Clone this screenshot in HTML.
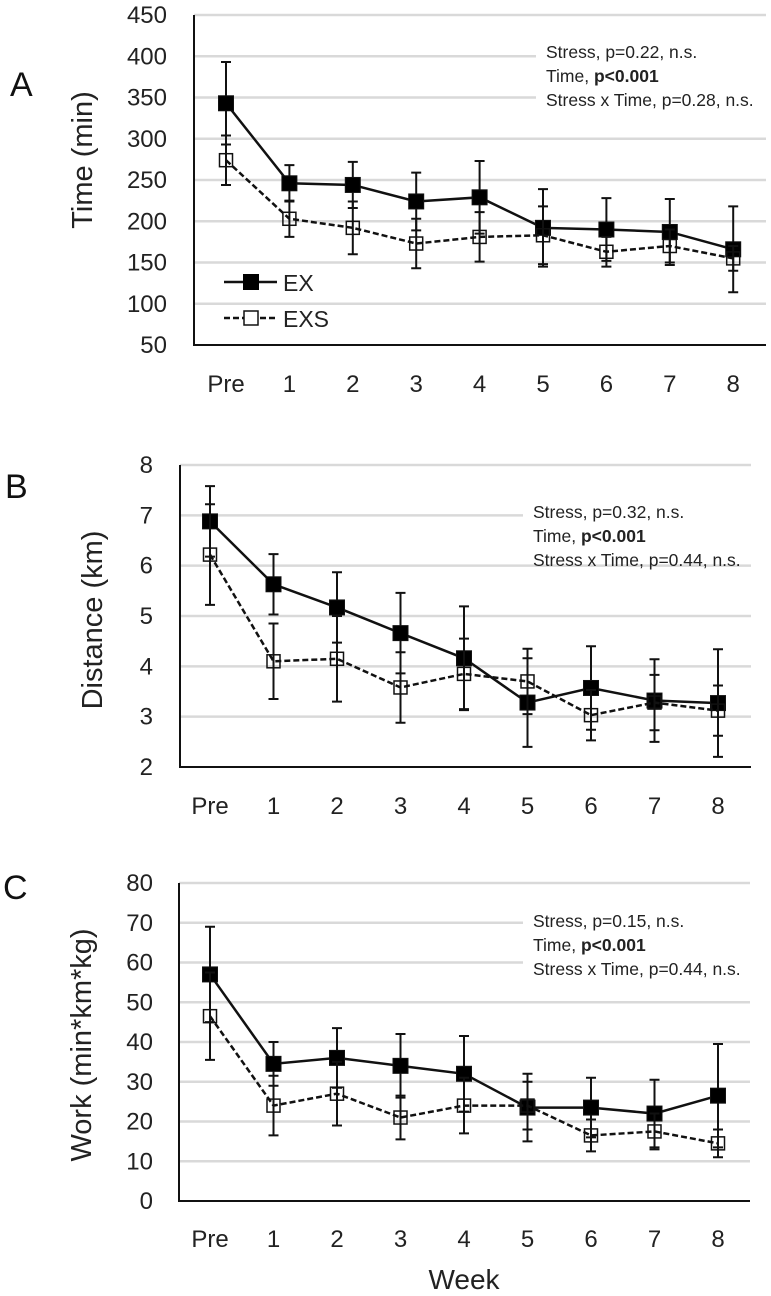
<!DOCTYPE html>
<html><head><meta charset="utf-8"><style>
html,body{margin:0;padding:0;background:#fff;}
svg{display:block;font-family:"Liberation Sans",sans-serif;}
</style></head><body>
<svg id="fig" width="771" height="1296" viewBox="0 0 771 1296" xmlns="http://www.w3.org/2000/svg"></svg>
<script>
const categories = ["Pre","1","2","3","4","5","6","7","8"];
const timeEX = [343,246,244,224,229,192,190,187,166];
const timeEXerr = [50,22,28,35,44,47,38,40,52];
const timeEXS = [274,203,192,173,181,183,163,170,155];
const timeEXSerr = [30,22,32,30,30,35,18,20,15];
const distEX = [6.88,5.63,5.17,4.66,4.16,3.28,3.57,3.32,3.27];
const distEXerr = [0.7,0.6,0.7,0.8,1.03,0.88,0.83,0.82,1.07];
const distEXS = [6.22,4.1,4.15,3.58,3.85,3.7,3.03,3.28,3.12];
const distEXSerr = [1.0,0.75,0.85,0.7,0.7,0.65,0.5,0.55,0.5];
const workEX = [57,34.5,36,34,32,23.5,23.5,22,26.5];
const workEXerr = [12,5.5,7.5,8,9.5,8.5,7.5,8.5,13];
const workEXS = [46.5,24,27,21,24,24,16.5,17.5,14.5];
const workEXSerr = [11,7.5,8,5.5,7,6,4,4.5,3.5];
const timeTicks = [50,100,150,200,250,300,350,400,450];
const distTicks = [2,3,4,5,6,7,8];
const workTicks = [0,10,20,30,40,50,60,70,80];

const NS="http://www.w3.org/2000/svg";
const svg=document.getElementById('fig');
function mk(tag,attrs,parent){const e=document.createElementNS(NS,tag);for(const k in attrs)e.setAttribute(k,attrs[k]);(parent||svg).appendChild(e);return e;}

function panel(o){
  const g=mk('g',{});
  
  
  const y=v=>o.y0-(v-o.vmin)/(o.vmax-o.vmin)*(o.y0-o.y1);
  const x=i=>o.xPre+i*o.step;
  o.ticks.forEach(t=>{
    if(t!==o.vmin){
      const gl=mk('line',{x1:o.ax,x2:o.xr,y1:y(t),y2:y(t),stroke:'#d9d9d9','stroke-width':2.5},g);
      
      
    }
    const tl=mk('text',{x:o.tickX,y:y(t)+8,'text-anchor':'end','font-size':24,fill:'#222'},g);
    tl.textContent=t;
    
    
  });
  const bg=mk('rect',{x:o.annX-10,y:o.annY-18,width:o.xr-o.annX+10,height:70,fill:'#fff'},g);
  
  
  const lines=o.ann;
  [0,1,2].forEach(k=>{
    const t=mk('text',{x:o.annX,y:o.annY+k*24+6,'font-size':17.5,fill:'#222'},g);
    
    
    if(k===1){t.innerHTML='Time, <tspan font-weight="bold">p&lt;0.001</tspan>';}
    else t.textContent=lines[k];
  });
  const axl=mk('path',{d:`M${o.ax},${o.y1} V${o.y0} H${o.xr}`,fill:'none',stroke:'#111','stroke-width':2},g);
  
  
  categories.forEach((c,i)=>{
    const t=mk('text',{x:x(i),y:o.catY,'text-anchor':'middle','font-size':24,fill:'#222'},g);
    t.textContent=c;
    
    
  });
  const at=mk('text',{transform:`translate(${o.titleX},${o.titleY}) rotate(-90)`,'text-anchor':'middle','font-size':29,fill:'#222'},g);
  at.textContent=o.title;
  
  
  const pl=mk('text',{x:o.letterX,y:o.letterY,'font-size':34,fill:'#111'},g);
  pl.textContent=o.letter;
  
  
  function series(vals,errs,filled,dash,nm){
    vals.forEach((v,i)=>{
      const e=mk('path',{d:`M${x(i)},${y(v+errs[i])} V${y(v-errs[i])} M${x(i)-5},${y(v+errs[i])} h10 M${x(i)-5},${y(v-errs[i])} h10`,stroke:'#111','stroke-width':2,fill:'none'},g);
      
      
    });
    const ln=mk('polyline',{points:vals.map((v,i)=>x(i)+','+y(v)).join(' '),fill:'none',stroke:'#111','stroke-width':2.5,'stroke-dasharray':dash},g);
    
    
    vals.forEach((v,i)=>{
      const s=filled?15:13;
      const r=mk('rect',{x:x(i)-s/2,y:y(v)-s/2,width:s,height:s,fill:filled?'#000':'none',stroke:'#111','stroke-width':filled?1:1.5},g);
      
      
    });
  }
  series(o.ex,o.exErr,true,'none','ex');
  series(o.exs,o.exsErr,false,'6,3','exs');
  return g;
}

panel({name:'panel-a-time',vmin:50,vmax:450,y0:345,y1:15,ax:194,xr:766,xPre:226,step:63.4,ticks:timeTicks,tickX:167,catY:392,
  title:'Time (min)',titleX:92,titleY:160,letter:'A',letterX:10,letterY:96,annX:546,annY:52,
  ann:['Stress, p=0.22, n.s.','','Stress x Time, p=0.28, n.s.'],ex:timeEX,exErr:timeEXerr,exs:timeEXS,exsErr:timeEXSerr});
panel({name:'panel-b-distance',vmin:2,vmax:8,y0:767,y1:465,ax:180,xr:751,xPre:210,step:63.5,ticks:distTicks,tickX:153,catY:814,
  title:'Distance (km)',titleX:102,titleY:620,letter:'B',letterX:5,letterY:498,annX:533,annY:512,
  ann:['Stress, p=0.32, n.s.','','Stress x Time, p=0.44, n.s.'],ex:distEX,exErr:distEXerr,exs:distEXS,exsErr:distEXSerr});
panel({name:'panel-c-work',vmin:0,vmax:80,y0:1201,y1:883,ax:179,xr:750,xPre:210,step:63.5,ticks:workTicks,tickX:153,catY:1247,
  title:'Work (min*km*kg)',titleX:91,titleY:1045,letter:'C',letterX:3,letterY:899,annX:533,annY:921,
  ann:['Stress, p=0.15, n.s.','','Stress x Time, p=0.44, n.s.'],ex:workEX,exErr:workEXerr,exs:workEXS,exsErr:workEXSerr});

const wk=mk('text',{x:464,y:1289,'text-anchor':'middle','font-size':28,fill:'#222'});
wk.textContent='Week';



const lg=mk('g',{});


const l1=mk('line',{x1:224,x2:277,y1:282,y2:282,stroke:'#111','stroke-width':2.5},lg);


const m1=mk('rect',{x:243,y:274,width:16,height:16,fill:'#000'},lg);


const t1=mk('text',{x:283,y:291,'font-size':23,fill:'#222'},lg);
t1.textContent='EX';


const l2=mk('line',{x1:224,x2:277,y1:318,y2:318,stroke:'#111','stroke-width':2.5,'stroke-dasharray':'6,3'},lg);


const m2=mk('rect',{x:244,y:311,width:14,height:14,fill:'#fff',stroke:'#111','stroke-width':1.5},lg);


const t2=mk('text',{x:283,y:327,'font-size':23,fill:'#222'},lg);
t2.textContent='EXS';


</script>
</body></html>
